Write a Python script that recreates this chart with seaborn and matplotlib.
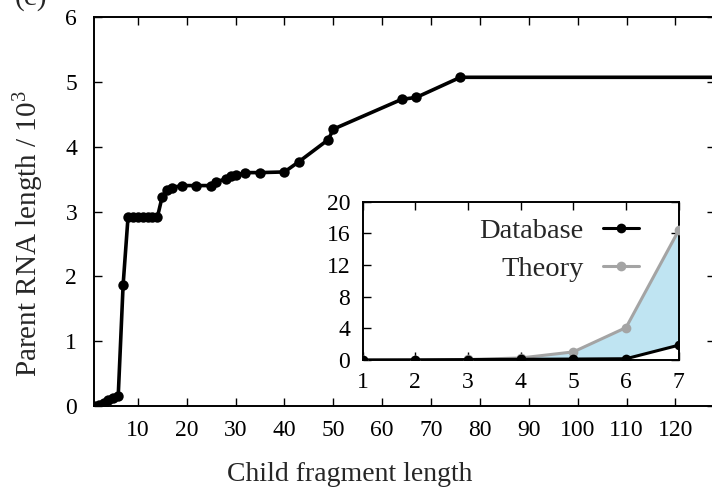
import matplotlib
matplotlib.use("Agg")
import matplotlib.pyplot as plt
import seaborn as sns
import numpy as np

# Longest parent RNA (in units of 10^3 nt) for each child fragment length
child_len = [1, 2, 3, 4, 5, 6, 7, 8, 9, 10, 11, 12, 13, 14, 15, 16, 17, 19, 22, 25,
             26, 28, 29, 30, 32, 35, 40, 43, 49, 50, 64, 67, 76, 150]
parent_len = [0.004, 0.016, 0.05, 0.09, 0.12, 0.16, 1.87, 2.91, 2.91, 2.91, 2.91, 2.91,
              2.91, 2.91, 3.23, 3.33, 3.37, 3.40, 3.40, 3.40, 3.46, 3.50, 3.54, 3.56,
              3.60, 3.60, 3.61, 3.77, 4.11, 4.27, 4.73, 4.76, 5.07, 5.07]

# Inset: short child fragments, database vs. theoretical bound
inset_len = [1, 2, 3, 4, 5, 6, 7]
theory_len = [0.004, 0.016, 0.064, 0.256, 1.024, 4.096, 16.384]
database_len = parent_len[:7]

x_ticks = list(range(10, 121, 10))
y_ticks = [0, 1, 2, 3, 4, 5, 6]
inset_x_ticks = [1, 2, 3, 4, 5, 6, 7]
inset_y_ticks = [0, 4, 8, 12, 16, 20]

sns.set_theme(style="ticks")
plt.rcParams["font.family"] = ["Liberation Serif", "DejaVu Serif"]
plt.rcParams["mathtext.fontset"] = "custom"
plt.rcParams["mathtext.rm"] = "Liberation Serif"
plt.rcParams["mathtext.default"] = "regular"

W, H = 712, 499
fig = plt.figure(figsize=(W / 100, H / 100), dpi=100)

# main axes (right edge runs slightly past the figure)
x0, x1, yb, yt = 93.8, 714.5, 406.0, 17.0
ax = fig.add_axes([x0 / W, (H - yb) / H, (x1 - x0) / W, (yb - yt) / H])

sns.lineplot(x=child_len, y=parent_len, ax=ax, color="black", lw=2.6,
             marker="o", markersize=7.5, markeredgewidth=0, sort=False,
             estimator=None)
ax.set_xlim(1, 128)
ax.set_ylim(0, 6)
ax.set_xticks(x_ticks)
ax.set_yticks(y_ticks)
ax.tick_params(direction="in", length=6, width=1, top=True, right=True,
               labelsize=17, colors="black")
ax.tick_params(axis="y", pad=12)
ax.tick_params(axis="x", pad=10)
for s in ax.spines.values():
    s.set_linewidth(1.4)
    s.set_color("black")
ax.set_xlabel("Child fragment length", fontsize=20)
ax.set_ylabel("Parent RNA length / 10$^{3}$", fontsize=21)
ax.xaxis.set_label_coords((350 - x0) / (x1 - x0), (yb - 462) / (yb - yt))
ax.yaxis.set_label_coords((46 - x0) / (x1 - x0), (yb - 234) / (yb - yt))

fig.text(15 / W, (H - 11) / H, "(c)", fontsize=21, va="bottom", ha="left")

# inset
il, ir, ib, it = 362.7, 678.7, 360.0, 201.7
ins = fig.add_axes([il / W, (H - ib) / H, (ir - il) / W, (ib - it) / H])
ins.set_facecolor("white")
ins.fill_between(inset_len, database_len, theory_len, color="#bfe4f2", lw=0)
sns.lineplot(x=inset_len, y=database_len, ax=ins, color="black", lw=2.2,
             marker="o", markersize=7, markeredgewidth=0, label="Database",
             zorder=4)
sns.lineplot(x=inset_len, y=theory_len, ax=ins, color="#a4a4a4", lw=2.2,
             marker="o", markersize=7, markeredgewidth=0, label="Theory",
             zorder=3)
ins.set_xlim(1, 7)
ins.set_ylim(0, 20)
ins.set_xticks(inset_x_ticks)
ins.set_yticks(inset_y_ticks)
ins.tick_params(direction="in", length=6, width=1, top=True, right=True,
                labelsize=17, colors="black", pad=9)
for s in ins.spines.values():
    s.set_linewidth(1.4)
    s.set_color("black")
ins.set_xlabel("")
ins.set_ylabel("")
ins.legend(loc="upper right", bbox_to_anchor=((639 - il) / (ir - il), (ib - 218) / (ib - it)),
           frameon=False, markerfirst=False, fontsize=20.5, handlelength=1.25,
           handletextpad=0.7, labelspacing=0.42, borderpad=0, borderaxespad=0)

fig.savefig("out.png", dpi=100)
